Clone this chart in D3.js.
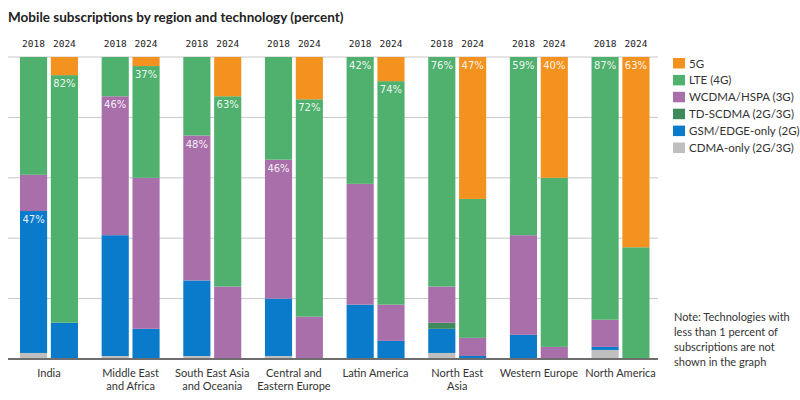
<!DOCTYPE html>
<html>
<head>
<meta charset="utf-8">
<script src="https://cdn.jsdelivr.net/npm/d3@7"></script>
<style>
    body { margin: 0; background: #fff; }
    svg { display: block; }
</style>
</head>
<body>
<div id="chart"></div>
<script>
// Regions (bottom labels), each region has two bars
const regions = ["India", "Middle East|and Africa", "South East Asia|and Oceania", "Central and|Eastern Europe",
    "Latin America", "North East|Asia", "Western Europe", "North America"];
const years = ["2018", "2024"];

// Technology names, bottom of the stack first
const techKeys = ["cdma", "gsm", "td", "wcdma", "lte", "fiveG"];
const techNames = ["CDMA-only (2G/3G)", "GSM/EDGE-only (2G)", "TD-SCDMA (2G/3G)", "WCDMA/HSPA (3G)", "LTE (4G)", "5G"];
const techColors = ["#bfbfbf", "#0a7bca", "#3e8a5b", "#a86fab", "#50b06d", "#f4921f"];

// Values in percent, one per bar: region by region, 2018 then 2024
const cdma  = [2, 0,  1, 0,  1, 0,  1, 0,  0, 0,  2, 0,  0, 0,  3, 0];
const gsm   = [47, 12, 40, 10, 25, 0, 19, 0, 18, 6, 8, 1, 8, 0, 1, 0];
const td    = [0, 0,  0, 0,  0, 0,  0, 0,  0, 0,  2, 0,  0, 0,  0, 0];
const wcdma = [12, 0, 46, 50, 48, 24, 46, 14, 40, 12, 12, 6, 33, 4, 9, 0];
const lte   = [39, 82, 13, 37, 26, 63, 34, 72, 42, 74, 76, 46, 59, 56, 87, 37];
const fiveG = [0, 6,  0, 3,  0, 13, 0, 14, 0, 8,  0, 47, 0, 40, 0, 63];

// Which segment gets the percent label on each bar
const labelKeys = ["gsm", "lte", "wcdma", "lte", "wcdma", "lte", "wcdma", "lte",
    "lte", "lte", "lte", "fiveG", "lte", "fiveG", "lte", "fiveG"];

const gridTicks = [0, 20, 40, 60, 80, 100];

const noteLines = ["Note: Technologies with", "less than 1 percent of", "subscriptions are not", "shown in the graph"];

// Build table for d3.stack
const series = { cdma, gsm, td, wcdma, lte, fiveG };
let rows = [];
for (let i = 0; i < regions.length; i++) {
    for (let j = 0; j < years.length; j++) {
        const k = i * years.length + j;
        const row = { region: regions[i], year: years[j], idx: k };
        techKeys.forEach(t => { row[t] = series[t][k]; });
        rows.push(row);
    }
}

const width = 800;
const height = 400;

const svg = d3.select("#chart")
    .append("svg")
    .attr("width", width)
    .attr("height", height);

// Title
svg.append("text")
    .attr("x", 8)
    .attr("y", 22)
    .attr("font-family", "Lato")
    .attr("font-weight", "bold")
    .attr("font-size", "13.5px")
    .attr("fill", "#222")
    .text("Mobile subscriptions by region and technology (percent)");

// Scales
const xGroup = d3.scaleBand()
    .domain(regions)
    .range([20, 649.5])
    .paddingInner(0.29);

const xBar = d3.scaleBand()
    .domain(years)
    .range([0, xGroup.bandwidth()])
    .paddingInner(0.12);

const y = d3.scaleLinear()
    .domain([0, 100])
    .range([359, 57]);

// Gridlines
svg.append("g")
    .selectAll("line")
    .data(gridTicks.filter(d => d > 0))
    .enter().append("line")
    .attr("x1", 8)
    .attr("x2", 658)
    .attr("y1", d => y(d))
    .attr("y2", d => y(d))
    .attr("stroke", "#c8c8c8")
    .attr("stroke-width", 1);

// Stacked bars
const stack = d3.stack().keys(techKeys);
const stacked = stack(rows);
const color = d3.scaleOrdinal().domain(techKeys).range(techColors);

const barX = d => xGroup(d.data.region) + xBar(d.data.year);

svg.append("g")
    .selectAll("g")
    .data(stacked)
    .enter().append("g")
    .attr("fill", d => color(d.key))
    .selectAll("rect")
    .data(d => d.filter(s => s[1] - s[0] > 0))
    .enter().append("rect")
    .attr("x", barX)
    .attr("width", xBar.bandwidth())
    .attr("y", d => y(d[1]))
    .attr("height", d => y(d[0]) - y(d[1]));

// Baseline
svg.append("line")
    .attr("x1", 8)
    .attr("x2", 658)
    .attr("y1", y(0))
    .attr("y2", y(0))
    .attr("stroke", "#6e6e6e")
    .attr("stroke-width", 2);

// Percent labels inside the bars
svg.append("g")
    .selectAll("text")
    .data(rows)
    .enter().append("text")
    .attr("x", d => xGroup(d.region) + xBar(d.year) + xBar.bandwidth() / 2)
    .attr("y", d => {
        const layer = stacked[techKeys.indexOf(labelKeys[d.idx])];
        return y(layer[d.idx][1]) + 12;
    })
    .attr("text-anchor", "middle")
    .attr("font-family", "DejaVu Sans")
    .attr("font-size", "10px")
    .attr("fill", "#fff")
    .attr("fill-opacity", 0.92)
    .text(d => d[labelKeys[d.idx]] + "%");

// Year labels on top
svg.append("g")
    .selectAll("text")
    .data(rows)
    .enter().append("text")
    .attr("x", d => xGroup(d.region) + xBar(d.year) + xBar.bandwidth() / 2)
    .attr("y", 47)
    .attr("text-anchor", "middle")
    .attr("font-family", "DejaVu Sans Mono")
    .attr("font-size", "9.5px")
    .attr("fill", "#222")
    .text(d => d.year);

// Region labels at the bottom
const regLabels = svg.append("g")
    .selectAll("text")
    .data(regions)
    .enter().append("text")
    .attr("x", d => xGroup(d) + xGroup.bandwidth() / 2)
    .attr("y", 377)
    .attr("text-anchor", "middle")
    .attr("font-family", "Lato")
    .attr("font-size", "11px")
    .attr("fill", "#333");

regLabels.selectAll("tspan")
    .data(d => d.split("|"))
    .enter().append("tspan")
    .attr("x", function() { return d3.select(this.parentNode).attr("x"); })
    .attr("dy", (d, i) => i === 0 ? 0 : 12.5)
    .text(d => d);

// Legend, 5G on top
const legendOrder = techKeys.slice().reverse();
const legend = svg.append("g")
    .selectAll("g")
    .data(legendOrder)
    .enter().append("g")
    .attr("transform", (d, i) => `translate(673, ${58 + i * 16.9})`);

legend.append("rect")
    .attr("width", 12)
    .attr("height", 10.5)
    .attr("fill", d => color(d));

legend.append("text")
    .attr("x", 16)
    .attr("y", 9.5)
    .attr("font-family", "Lato")
    .attr("font-size", "11.5px")
    .attr("fill", "#333")
    .text(d => techNames[techKeys.indexOf(d)]);

// Note
svg.append("g")
    .selectAll("text")
    .data(noteLines)
    .enter().append("text")
    .attr("x", 674)
    .attr("y", (d, i) => 320.5 + i * 15)
    .attr("font-family", "Lato")
    .attr("font-size", "11px")
    .attr("fill", "#333")
    .text(d => d);
</script>
</body>
</html>
